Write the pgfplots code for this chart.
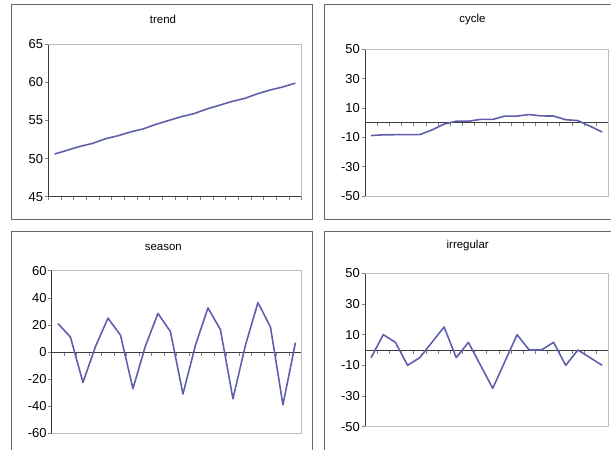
\documentclass[border=0pt]{standalone}
\usepackage{pgfplots}
\pgfplotsset{compat=1.18}
\usepackage{fontspec}
\setmainfont{Liberation Sans}
\definecolor{ser}{RGB}{95,95,172}
\definecolor{frm}{RGB}{105,105,105}
\definecolor{pab}{RGB}{190,190,190}
\definecolor{axl}{RGB}{60,60,60}
\pgfplotsset{
  panel/.style={
    scale only axis, anchor=south west, clip=false,
    xmin=0, xmax=20, xtick={0,...,20}, xticklabels={},
    axis y line=left,
    tick style={axl, line width=0.6bp},
    major tick length=3.5bp, tick align=outside,
    ticklabel style={font=\fontsize{13}{15}\selectfont},
    yticklabel style={inner sep=1.5bp},
  },
  axl/.style={axis line style={draw=axl, line width=0.8bp, -}},
  sline/.style={draw=ser, line width=1.6bp, mark=none, line join=round},
}
\begin{document}
\begin{tikzpicture}
\path[use as bounding box] (0bp,0bp) rectangle (611bp,-450bp);
% frames
\draw[frm, line width=1bp] (11bp,-4bp) rectangle (312bp,-219bp);
\draw[frm, line width=1bp] (324bp,-4bp) rectangle (640bp,-219bp);
\draw[frm, line width=1bp] (11bp,-231.7bp) rectangle (312bp,-470bp);
\draw[frm, line width=1bp] (324bp,-231.7bp) rectangle (640bp,-470bp);
% titles
\node[font=\fontsize{11.5}{13}\selectfont] at (163bp,-19.3bp) {trend};
\node[font=\fontsize{11.5}{13}\selectfont] at (472.5bp,-20bp) {cycle};
\node[font=\fontsize{11.5}{13}\selectfont] at (163.3bp,-247.7bp) {season};
\node[font=\fontsize{11.5}{13}\selectfont] at (467.7bp,-245.7bp) {irregular};

% trend
\begin{axis}[panel, at={(48.3bp,-196.7bp)}, width=253.4bp, height=152.4bp,
  axis x line=bottom, axl, tick align=outside,
  ymin=45, ymax=65, ytick={45,50,...,65}, yticklabels={45,50,55,60,65}]
\draw[pab, line width=0.8bp] (rel axis cs:1,0) -- (rel axis cs:1,1) -- (rel axis cs:0,1);
\addplot[sline] coordinates {(0.5,50.6) (1.5,51.1) (2.5,51.6) (3.5,52.0) (4.5,52.6) (5.5,53.0) (6.5,53.5) (7.5,53.9) (8.5,54.5) (9.5,55.0) (10.5,55.5) (11.5,55.9) (12.5,56.5) (13.5,57.0) (14.5,57.5) (15.5,57.9) (16.5,58.5) (17.5,59.0) (18.5,59.4) (19.5,59.9)};
\end{axis}

% cycle
\begin{axis}[panel, at={(365bp,-196bp)}, width=243.3bp, height=146.7bp,
  axis x line=middle, axl, tick align=outside,
  ymin=-50, ymax=50, ytick={-50,-30,-10,10,30,50}, yticklabels={-50,-30,-10,10,30,50}]
\draw[pab, line width=0.8bp] (rel axis cs:0,0) -- (rel axis cs:1,0) -- (rel axis cs:1,1) -- (rel axis cs:0,1);
\addplot[sline] coordinates {(0.5,-8.8) (1.5,-8.3) (2.5,-8.2) (3.5,-8.2) (4.5,-8.2) (5.5,-5) (6.5,-1) (7.5,1) (8.5,1) (9.5,2.2) (10.5,2.2) (11.5,4.5) (12.5,4.5) (13.5,5.5) (14.5,4.6) (15.5,4.5) (16.5,2) (17.5,1.4) (18.5,-2.4) (19.5,-6.4)};
\end{axis}

% season
\begin{axis}[panel, at={(51.7bp,-433.3bp)}, width=250bp, height=162.6bp,
  axis x line=middle, axl, tick align=outside,
  ymin=-60, ymax=60, ytick={-60,-40,...,60}, yticklabels={-60,-40,-20,0,20,40,60}]
\draw[pab, line width=0.8bp] (rel axis cs:0,0) -- (rel axis cs:1,0) -- (rel axis cs:1,1) -- (rel axis cs:0,1);
\addplot[sline] coordinates {(0.5,21) (1.5,11) (2.5,-22.5) (3.5,4) (4.5,25) (5.5,12.5) (6.5,-27) (7.5,4.5) (8.5,28.5) (9.5,15) (10.5,-31) (11.5,5) (12.5,32.5) (13.5,16.5) (14.5,-34.5) (15.5,5) (16.5,36.5) (17.5,18.5) (18.5,-39) (19.5,7)};
\end{axis}

% irregular
\begin{axis}[panel, at={(365bp,-426.7bp)}, width=243.3bp, height=153.4bp,
  axis x line=middle, axl, tick align=outside,
  ymin=-50, ymax=50, ytick={-50,-30,-10,10,30,50}, yticklabels={-50,-30,-10,10,30,50}]
\draw[pab, line width=0.8bp] (rel axis cs:0,0) -- (rel axis cs:1,0) -- (rel axis cs:1,1) -- (rel axis cs:0,1);
\addplot[sline] coordinates {(0.5,-5) (1.5,10) (2.5,5) (3.5,-10) (4.5,-5) (5.5,5) (6.5,15) (7.5,-5) (8.5,5) (9.5,-10) (10.5,-25) (11.5,-7.5) (12.5,10) (13.5,0) (14.5,0) (15.5,5) (16.5,-10) (17.5,0) (18.5,-5) (19.5,-10)};
\end{axis}
\end{tikzpicture}
\end{document}
